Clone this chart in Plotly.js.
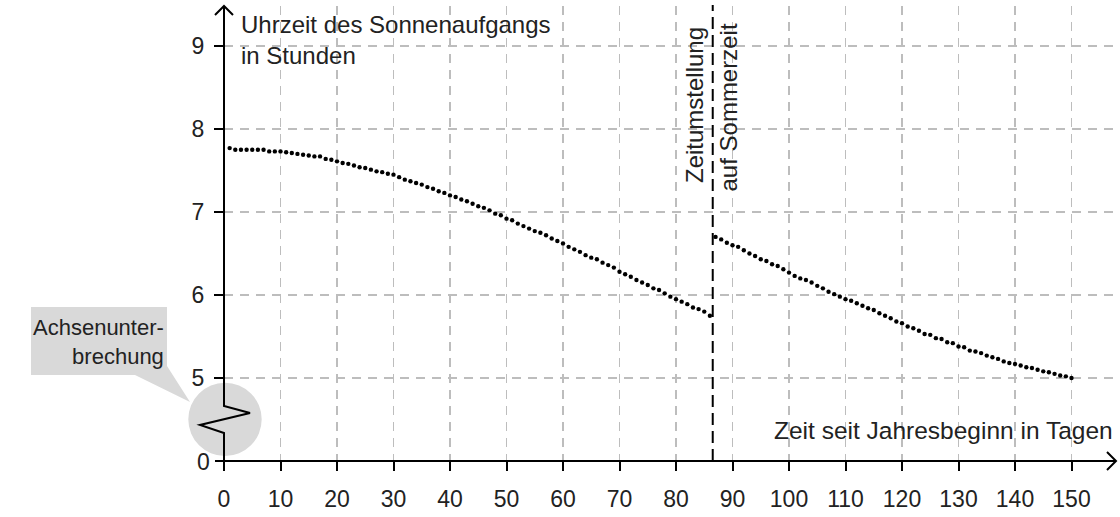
<!DOCTYPE html>
<html>
<head>
<meta charset="utf-8">
<script src="https://cdn.plot.ly/plotly-3.0.1.min.js"></script>
<style>html,body{margin:0;padding:0;background:#fff;}#chart{width:1120px;height:517px;}</style>
</head>
<body>
<div id="chart"></div>
<script>
// ---- data ----
const days1 = [1,2,3,4,5,6,7,8,9,10,11,12,13,14,15,16,17,18,19,20,21,22,23,24,25,26,27,28,29,30,
  31,32,33,34,35,36,37,38,39,40,41,42,43,44,45,46,47,48,49,50,51,52,53,54,55,56,57,58,59,60,
  61,62,63,64,65,66,67,68,69,70,71,72,73,74,75,76,77,78,79,80,81,82,83,84,85,86];
const sunrise1 = [7.77,7.75,7.75,7.75,7.75,7.75,7.75,7.73,7.73,7.73,7.72,7.71,7.70,7.69,7.68,7.67,7.67,7.64,7.63,7.61,
  7.59,7.58,7.56,7.54,7.53,7.51,7.49,7.48,7.46,7.45,7.42,7.39,7.37,7.35,7.33,7.30,7.28,7.25,7.23,7.20,
  7.18,7.15,7.13,7.10,7.07,7.05,7.02,6.98,6.96,6.92,6.90,6.86,6.83,6.80,6.77,6.75,6.72,6.68,6.65,6.62,
  6.58,6.55,6.52,6.48,6.45,6.43,6.39,6.36,6.33,6.28,6.25,6.22,6.18,6.15,6.12,6.08,6.06,6.02,5.98,5.95,
  5.92,5.89,5.85,5.83,5.80,5.75];
const days2 = [87,88,89,90,91,92,93,94,95,96,97,98,99,100,101,102,103,104,105,106,107,108,109,110,
  111,112,113,114,115,116,117,118,119,120,121,122,123,124,125,126,127,128,129,130,131,132,133,134,135,
  136,137,138,139,140,141,142,143,144,145,146,147,148,149,150];
const sunrise2 = [6.70,6.67,6.63,6.60,6.58,6.54,6.50,6.47,6.43,6.41,6.37,6.35,6.31,6.27,6.23,6.20,6.18,6.15,6.11,6.08,
  6.04,6.01,5.98,5.95,5.93,5.90,5.87,5.84,5.82,5.78,5.75,5.72,5.68,5.66,5.62,5.60,5.57,5.53,5.52,5.48,
  5.47,5.43,5.42,5.38,5.37,5.33,5.32,5.30,5.27,5.25,5.23,5.20,5.18,5.17,5.15,5.13,5.12,5.10,5.08,5.07,
  5.05,5.03,5.02,5.00];
const xTicks = [0,10,20,30,40,50,60,70,80,90,100,110,120,130,140,150];
const yTicks = [5,6,7,8,9];
const yTickText = ['5','6','7','8','9'];
const dstDay = 86.5;
const yLabel = 'Uhrzeit des Sonnenaufgangs<br>in Stunden';
const xLabel = 'Zeit seit Jahresbeginn in Tagen';
const dstLabel1 = 'Zeitumstellung';
const dstLabel2 = 'auf Sommerzeit';
const breakLabel = 'Achsenunter-<br>brechung';

// ---- geometry ----
const W = 1120, H = 517, L = 224, R = 4, T = 6, B = 56;
const PW = W - L - R, PH = H - T - B;
const pxPerDay = 5.65, pxPerHour = 83;
const xMax = PW / pxPerDay;
const yMin = 4, yMax = yMin + PH / pxPerHour;
const fx = p => (p - L) / PW;
const fy = p => (H - B - p) / PH;
const path = pts => pts.map((p, i) => (i ? 'L' : 'M') + fx(p[0]).toFixed(5) + ',' + fy(p[1]).toFixed(5)).join(' ');

const FONT = 'Liberation Sans, Arial, Helvetica, sans-serif';
const TXT = '#222';
const GRID = '#bdbdbd';

const traces = [
  {x: days1, y: sunrise1, type: 'scatter', mode: 'markers', marker: {color: '#000', size: 4.4}, hoverinfo: 'x+y'},
  {x: days2, y: sunrise2, type: 'scatter', mode: 'markers', marker: {color: '#000', size: 4.4}, hoverinfo: 'x+y'}
];

const white = (x0, y0, x1, y1) => ({type: 'rect', xref: 'paper', yref: 'paper', x0: fx(x0), x1: fx(x1), y0: fy(y1), y1: fy(y0),
  fillcolor: '#fff', line: {width: 0}, layer: 'between'});

const shapes = [
  white(236, 10, 553, 41),
  white(236, 41, 368, 74),
  white(680, 16, 742, 199),
  white(768, 413, 1116, 459),
  {type: 'line', xref: 'x', yref: 'paper', x0: dstDay, x1: dstDay, y0: 0, y1: fy(5),
    line: {color: '#000', width: 2, dash: '12px,6px'}, layer: 'above'},
  {type: 'path', xref: 'paper', yref: 'paper', layer: 'above', fillcolor: '#d9d9d9', line: {width: 0},
    path: path([[31, 307], [167, 307], [167, 366], [190, 402], [135, 375], [31, 375]]) + ' Z'},
  {type: 'circle', xref: 'paper', yref: 'paper', layer: 'above', fillcolor: '#d9d9d9', line: {width: 0},
    x0: fx(188.3), x1: fx(261.7), y0: fy(456), y1: fy(382.7)},
  {type: 'path', xref: 'paper', yref: 'paper', layer: 'above', line: {color: '#000', width: 2},
    path: path([[224, 461], [224, 433], [200, 425], [250, 413], [224, 406], [224, 6]])},
  {type: 'path', xref: 'paper', yref: 'paper', layer: 'above', line: {color: '#000', width: 2},
    path: path([[215, 15], [224, 6], [233, 15]])},
  {type: 'path', xref: 'paper', yref: 'paper', layer: 'above', line: {color: '#000', width: 2},
    path: path([[215, 461], [1116, 461]])},
  {type: 'path', xref: 'paper', yref: 'paper', layer: 'above', line: {color: '#000', width: 2},
    path: path([[1107, 452], [1116, 461], [1107, 470]])}
];

const ann = (o) => Object.assign({xref: 'paper', yref: 'paper', showarrow: false, borderpad: 0,
  font: {family: FONT, size: 24, color: TXT}}, o);

const annotations = [
  ann({text: yLabel, x: fx(240), xanchor: 'left', y: fy(10), yanchor: 'top', align: 'left'}),
  ann({text: dstLabel1, textangle: -90, x: fx(695), xanchor: 'center', y: fy(26), yanchor: 'top'}),
  ann({text: dstLabel2, textangle: -90, x: fx(728.5), xanchor: 'center', y: fy(23), yanchor: 'top'}),
  ann({text: xLabel, x: fx(1114), xanchor: 'right', y: fy(430), yanchor: 'middle', font: {family: FONT, size: 24.5, color: TXT}}),
  ann({text: breakLabel, x: fx(165), xanchor: 'right', y: fy(342), yanchor: 'middle', align: 'right',
    font: {family: FONT, size: 22, color: TXT}}),
  ann({text: '0', x: fx(211), xanchor: 'right', y: fy(462), yanchor: 'middle', font: {family: FONT, size: 23, color: TXT}})
];

const layout = {
  width: W, height: H,
  margin: {l: L, r: R, t: T, b: B, pad: 0},
  paper_bgcolor: '#fff', plot_bgcolor: '#fff',
  showlegend: false,
  font: {family: FONT, color: TXT},
  xaxis: {range: [0, xMax], tickmode: 'array', tickvals: xTicks, ticks: 'outside', ticklen: 9, tickwidth: 2,
    tickcolor: '#000', showline: false, zeroline: false, showgrid: true, gridcolor: GRID, gridwidth: 1.3,
    griddash: '9px,7px', tickfont: {family: FONT, size: 23, color: TXT}, ticklabelstandoff: 8, fixedrange: true},
  yaxis: {range: [yMin, yMax], tickmode: 'array', tickvals: yTicks, ticktext: yTickText, ticks: 'outside', ticklen: 9,
    tickwidth: 2, tickcolor: '#000', showline: false, zeroline: false, showgrid: true, gridcolor: GRID, gridwidth: 1.3,
    griddash: '9px,7px', tickfont: {family: FONT, size: 23, color: TXT}, ticklabelstandoff: 5, fixedrange: true},
  shapes: shapes,
  annotations: annotations
};

Plotly.newPlot('chart', traces, layout, {displayModeBar: false, staticPlot: true});
</script>
</body>
</html>
